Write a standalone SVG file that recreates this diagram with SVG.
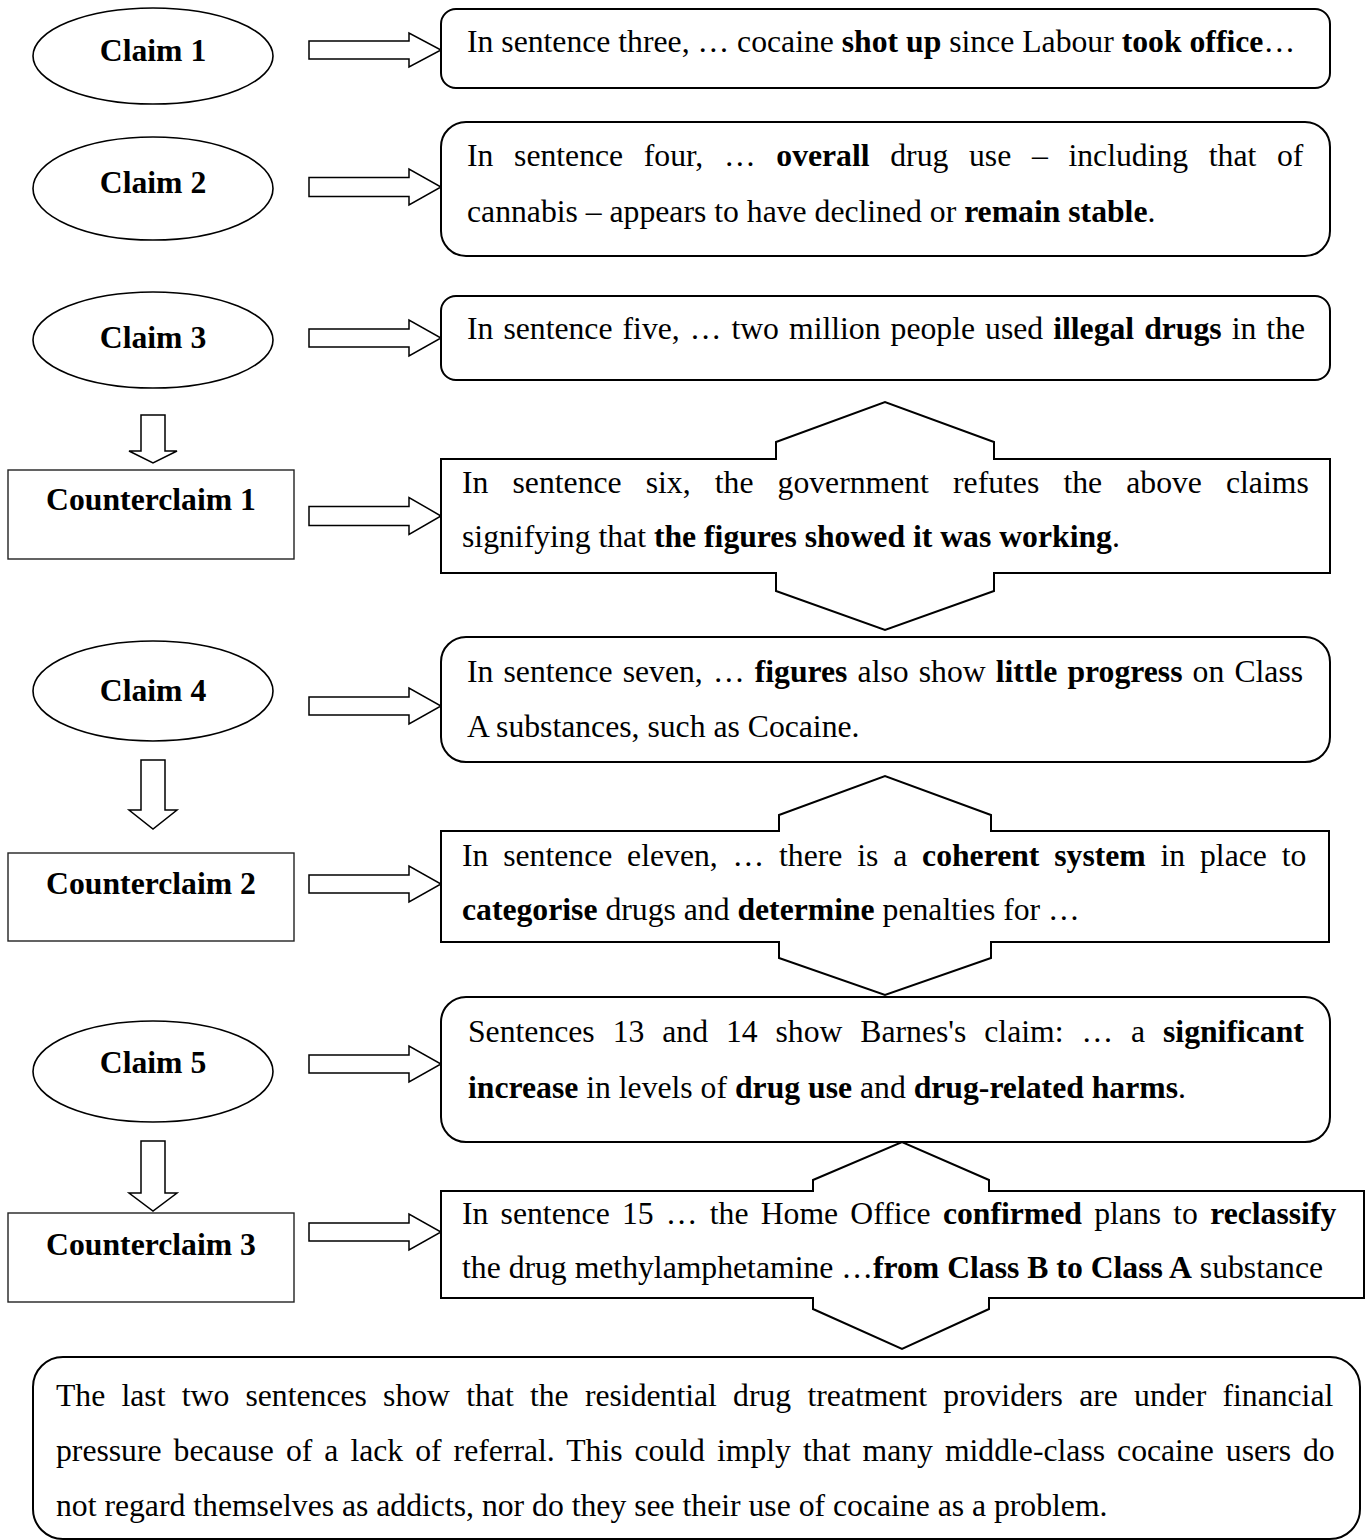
<svg xmlns="http://www.w3.org/2000/svg" width="1370" height="1540" viewBox="0 0 1370 1540">
<style>
.bg{fill:#fff}
.shape{fill:#fff;stroke:#000;stroke-width:2}
.ell{fill:#fff;stroke:#000;stroke-width:1.6}
.cc{fill:#fff;stroke:#222;stroke-width:1.4}
.arr{fill:#fff;stroke:#000;stroke-width:1.5;stroke-linejoin:miter}
text{font-family:"Liberation Serif","Times New Roman",serif;font-size:31.7px;fill:#000}
.lbl{font-weight:bold;text-anchor:middle}
.b{font-weight:bold}
</style>
<rect class="bg" x="0" y="0" width="1370" height="1540"/>

<g id="connectors">
<path class="arr" d="M309,41 H409 V33 L441,50 L409,67 V59 H309 Z"/>
<path class="arr" d="M309,177.5 H409 V169 L441,187 L409,205 V196.5 H309 Z"/>
<path class="arr" d="M309,329 H409 V320 L441,338 L409,356 V347 H309 Z"/>
<path class="arr" d="M309,506.5 H409 V497.5 L441,516 L409,534.5 V525.5 H309 Z"/>
<path class="arr" d="M309,697 H409 V688 L441,706 L409,724 V715 H309 Z"/>
<path class="arr" d="M309,875 H409 V866 L441,884 L409,902 V893 H309 Z"/>
<path class="arr" d="M309,1055 H409 V1046 L441,1064 L409,1082 V1073 H309 Z"/>
<path class="arr" d="M309,1223 H409 V1214 L441,1232 L409,1250 V1241 H309 Z"/>
<path class="arr" d="M141,415 H165 V451 H177 L153,463 L129,451 H141 Z"/>
<path class="arr" d="M141,760 H165 V810 H177 L153,829 L129,810 H141 Z"/>
<path class="arr" d="M141,1141 H165 V1193 H177 L153,1211 L129,1193 H141 Z"/>
</g>

<g id="claim1">
<ellipse class="ell" cx="153" cy="56" rx="120" ry="48"/>
<text class="lbl" x="153" y="61">Claim 1</text>
</g>
<g id="claim2">
<ellipse class="ell" cx="153" cy="188.5" rx="120" ry="51.5"/>
<text class="lbl" x="153" y="193">Claim 2</text>
</g>
<g id="claim3">
<ellipse class="ell" cx="153" cy="340" rx="120" ry="48"/>
<text class="lbl" x="153" y="348">Claim 3</text>
</g>
<g id="counterclaim1">
<rect class="cc" x="8" y="470" width="286" height="89"/>
<text class="lbl" x="151" y="510">Counterclaim 1</text>
</g>
<g id="claim4">
<ellipse class="ell" cx="153" cy="691" rx="120" ry="50"/>
<text class="lbl" x="153" y="701">Claim 4</text>
</g>
<g id="counterclaim2">
<rect class="cc" x="8" y="853" width="286" height="88"/>
<text class="lbl" x="151" y="894">Counterclaim 2</text>
</g>
<g id="claim5">
<ellipse class="ell" cx="153" cy="1071.5" rx="120" ry="50.5"/>
<text class="lbl" x="153" y="1073">Claim 5</text>
</g>
<g id="counterclaim3">
<rect class="cc" x="8" y="1213" width="286" height="89"/>
<text class="lbl" x="151" y="1255">Counterclaim 3</text>
</g>

<g id="box1">
<rect class="shape" x="441" y="9" width="889" height="79" rx="15"/>
<text x="467" y="52">In sentence three, … cocaine <tspan class="b">shot up</tspan> since Labour <tspan class="b">took office</tspan>…</text>
</g>
<g id="box2">
<rect class="shape" x="441" y="122" width="889" height="134" rx="25"/>
<text x="467" y="166" word-spacing="12.75">In sentence four, … <tspan class="b">overall</tspan> drug use – including that of</text>
<text x="467" y="222">cannabis – appears to have declined or <tspan class="b">remain stable</tspan>.</text>
</g>
<g id="box3">
<rect class="shape" x="441" y="296" width="889" height="84" rx="15"/>
<text x="467" y="339" word-spacing="2.1">In sentence five, … two million people used <tspan class="b">illegal drugs</tspan> in the</text>
</g>
<g id="hex1">
<path class="shape" d="M441,459 H776 V442 L885,402 L994,442 V459 H1330 V573 H994 V591 L885,630 L776,591 V573 H441 Z"/>
<text x="462" y="493" word-spacing="16.2">In sentence six, the government refutes the above claims</text>
<text x="462" y="547">signifying that <tspan class="b">the figures showed it was working</tspan>.</text>
</g>
<g id="box4">
<rect class="shape" x="441" y="637" width="889" height="125" rx="25"/>
<text x="467" y="682" word-spacing="2.2">In sentence seven, … <tspan class="b">figures</tspan> also show <tspan class="b">little progress</tspan> on Class</text>
<text x="467" y="737">A substances, such as Cocaine.</text>
</g>
<g id="hex2">
<path class="shape" d="M441,831 H779 V815 L885,776 L991,815 V831 H1329 V942 H991 V958 L885,995 L779,958 V942 H441 Z"/>
<text x="462" y="866" word-spacing="6.9">In sentence eleven, … there is a <tspan class="b">coherent system</tspan> in place to</text>
<text x="462" y="920"><tspan class="b">categorise</tspan> drugs and <tspan class="b">determine</tspan> penalties for …</text>
</g>
<g id="box5">
<rect class="shape" x="441" y="997" width="889" height="145" rx="25"/>
<text x="468" y="1042" word-spacing="10">Sentences 13 and 14 show Barnes's claim: … a <tspan class="b">significant</tspan></text>
<text x="468" y="1098"><tspan class="b">increase</tspan> in levels of <tspan class="b">drug use</tspan> and <tspan class="b">drug-related harms</tspan>.</text>
</g>
<g id="hex3">
<path class="shape" d="M441,1191 H813 V1180 L902,1142 L989,1180 V1191 H1364 V1298 H989 V1309 L902,1349 L813,1309 V1298 H441 Z"/>
<text x="462" y="1224" word-spacing="4.3">In sentence 15 … the Home Office <tspan class="b">confirmed</tspan> plans to <tspan class="b">reclassify</tspan></text>
<text x="462" y="1278">the drug methylamphetamine …<tspan class="b">from Class B to Class A</tspan> substance</text>
</g>
<g id="final">
<rect class="shape" x="33" y="1357" width="1327" height="182" rx="30"/>
<text x="56" y="1406" word-spacing="8.3">The last two sentences show that the residential drug treatment providers are under financial</text>
<text x="56" y="1461" word-spacing="4.1">pressure because of a lack of referral. This could imply that many middle-class cocaine users do</text>
<text x="56" y="1516">not regard themselves as addicts, nor do they see their use of cocaine as a problem.</text>
</g>
</svg>
